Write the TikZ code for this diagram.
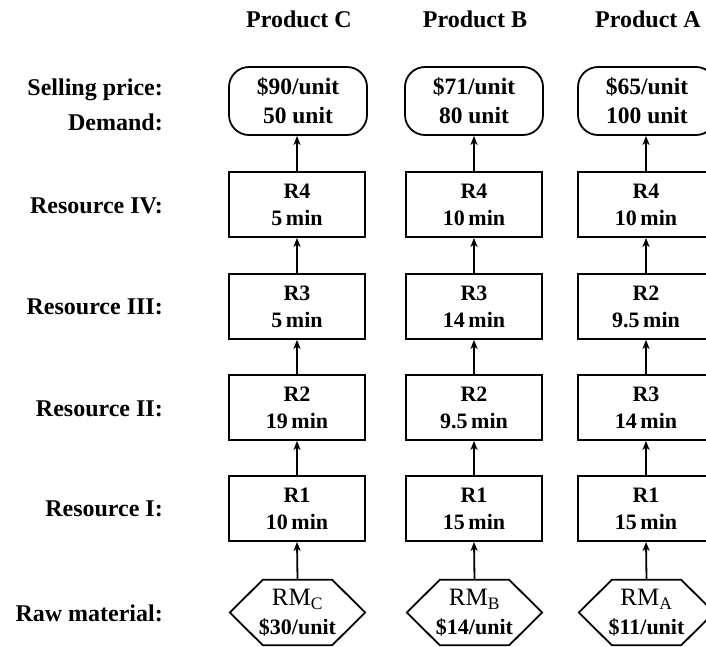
\documentclass[tikz,border=0pt]{standalone}
\usepackage{fontspec}
\setmainfont{Liberation Serif}
\usetikzlibrary{arrows.meta}
\begin{document}
\begin{tikzpicture}[x=1pt,y=-1pt,
  box/.style={draw,line width=1.8pt,minimum width=136pt,minimum height=65pt,inner sep=0pt,align=center,font=\fontsize{22}{27}\selectfont\bfseries},
  topbox/.style={draw,line width=1.8pt,rounded corners=20pt,minimum width=138pt,minimum height=68pt,inner sep=0pt,align=center,font=\fontsize{23.5}{29}\selectfont\bfseries},
  hexnode/.style={minimum width=135pt,minimum height=65pt,inner sep=0pt,align=center,font=\fontsize{25}{29}\selectfont},
  hexline/.style={line width=1.8pt},
  lab/.style={anchor=base east,inner sep=0pt,font=\fontsize{24}{28}\selectfont\bfseries},
  head/.style={anchor=base,inner sep=0pt,font=\fontsize{24}{28}\selectfont\bfseries},
  flow/.style={line width=1.8pt,-{Stealth[length=9pt,width=7pt,inset=2.5pt]}}
]
\path[use as bounding box] (0,0) rectangle (706,646);
\clip (0,0) rectangle (706,646);

% headers
\node[head] (hdC) at (299,27) {Product C};
\node[head] (hdB) at (475,27) {Product B};
\node[head] (hdA) at (648,27) {Product A};

% row labels
\node[lab] (lsp) at (163,95) {Selling price:};
\node[lab] (ldm) at (163,130) {Demand:};
\node[lab] (l4) at (163,213) {Resource IV:};
\node[lab] (l3) at (163,314) {Resource III:};
\node[lab] (l2) at (163,416) {Resource II:};
\node[lab] (l1) at (163,516) {Resource I:};
\node[lab] (lrm) at (163,621) {Raw material:};

% Column C
\node[topbox] (tC) at (298,101) {\$90/unit\\50 unit};
\node[box] (c4) at (297,204.5) {R4\\5\,min};
\node[box] (c3) at (297,306.5) {R3\\5\,min};
\node[box] (c2) at (297,407.5) {R2\\19\,min};
\node[box] (c1) at (297,508.5) {R1\\10\,min};
\node[hexnode] (hC) at (297.5,612.5) {RM\textsubscript{C}\\{\fontsize{22}{29}\selectfont\bfseries \$30/unit}};

% Column B
\node[topbox] (tB) at (474,101) {\$71/unit\\80 unit};
\node[box] (b4) at (474,204.5) {R4\\10\,min};
\node[box] (b3) at (474,306.5) {R3\\14\,min};
\node[box] (b2) at (474,407.5) {R2\\9.5\,min};
\node[box] (b1) at (474,508.5) {R1\\15\,min};
\node[hexnode] (hB) at (474.5,612.5) {RM\textsubscript{B}\\{\fontsize{22}{29}\selectfont\bfseries \$14/unit}};

% Column A
\node[topbox] (tA) at (647,101) {\$65/unit\\100 unit};
\node[box] (a4) at (646,204.5) {R4\\10\,min};
\node[box] (a3) at (646,306.5) {R2\\9.5\,min};
\node[box] (a2) at (646,407.5) {R3\\14\,min};
\node[box] (a1) at (646,508.5) {R1\\15\,min};
\node[hexnode] (hA) at (646.5,612.5) {RM\textsubscript{A}\\{\fontsize{22}{29}\selectfont\bfseries \$11/unit}};

% hexagon outlines
\foreach \h in {hC,hB,hA}{
  \draw[hexline] ([xshift=33pt]\h.north west) -- ([xshift=-33pt]\h.north east) -- (\h.east)
    -- ([xshift=-33pt]\h.south east) -- ([xshift=33pt]\h.south west) -- (\h.west) -- cycle;
}

% connectors
\foreach \h/\a/\b/\c/\d/\t in {hC/c1/c2/c3/c4/tC, hB/b1/b2/b3/b4/tB, hA/a1/a2/a3/a4/tA}{
  \draw[flow] (\h.north) -- (\a.south);
  \draw[flow] (\a.north) -- (\b.south);
  \draw[flow] (\b.north) -- (\c.south);
  \draw[flow] (\c.north) -- (\d.south);
  \draw[flow] (\d.north) -- (\t.south -| \d.north);
}
\end{tikzpicture}
\end{document}
